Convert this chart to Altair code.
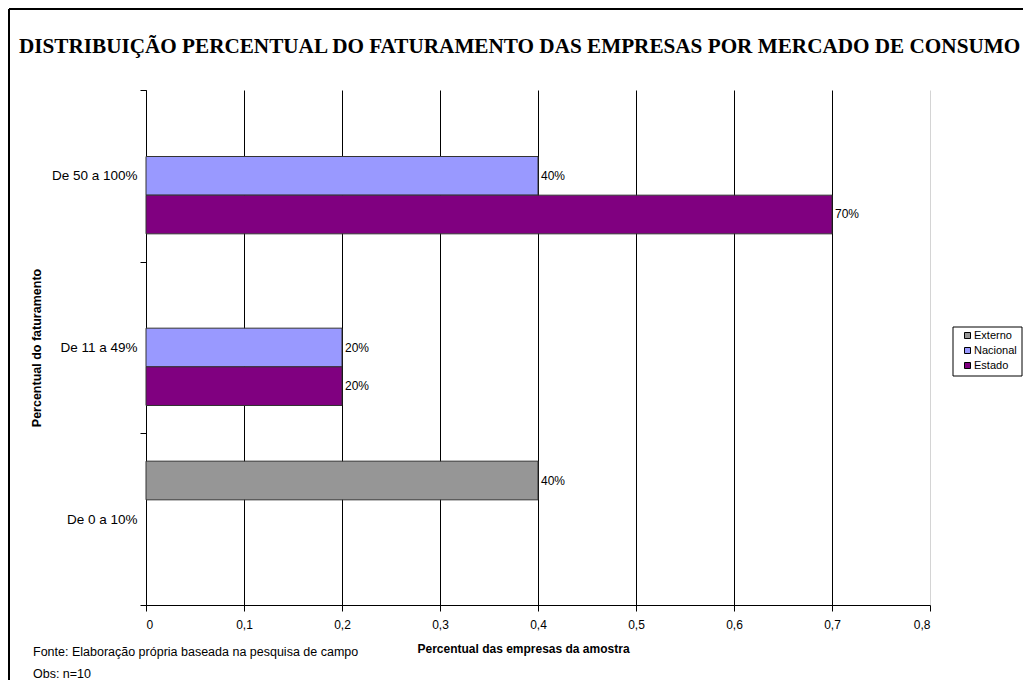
import altair as alt
import pandas as pd

categories = ["De 50 a 100%", "De 11 a 49%", "De 0 a 10%"]
series = ["Externo", "Nacional", "Estado"]
colors = ["#969696", "#9999FF", "#800080"]
externo = [None, None, 0.4]
nacional = [0.4, 0.2, None]
estado = [0.7, 0.2, None]
x_ticks = [0, 0.1, 0.2, 0.3, 0.4, 0.5, 0.6, 0.7, 0.8]

title_text = "DISTRIBUIÇÃO PERCENTUAL DO FATURAMENTO DAS EMPRESAS POR MERCADO DE CONSUMO"
x_title = "Percentual das empresas da amostra"
y_title = "Percentual do faturamento"
note1 = "Fonte: Elaboração própria baseada na pesquisa de campo"
note2 = "Obs: n=10"

rows = []
for name, vals in zip(series, [externo, nacional, estado]):
    for cat, v in zip(categories, vals):
        if v is not None:
            rows.append({"cat": cat, "series": name, "value": v, "label": f"{round(v*100)}%"})
df = pd.DataFrame(rows)

W, H = 784, 515
PL, PT, PR, PB = 138, 82, 93, 75
SANS = "Liberation Sans"
SERIF = "Liberation Serif"

base = alt.Chart(df)

y_enc = alt.Y("cat:N", sort=categories, title=y_title,
              scale=alt.Scale(paddingInner=0, paddingOuter=0),
              axis=alt.Axis(tickBand="extent", tickSize=6, tickColor="black",
                            domainColor="black", labelPadding=3, labelFontSize=13.5,
                            labelFont=SANS, labelColor="black", grid=False,
                            titleFont=SANS, titleFontSize=12.5, titleFontWeight="bold",
                            titleColor="black", titleX=-110, titleY=H / 2,
                            titleAngle=270, titleAlign="center", titleBaseline="middle"))
yoff = alt.YOffset("series:N", sort=series,
                   scale=alt.Scale(domain=series, paddingInner=0, paddingOuter=0.72))
x_enc = alt.X("value:Q", title=x_title,
              scale=alt.Scale(domain=[0, 0.8], nice=False, zero=True),
              axis=alt.Axis(values=x_ticks,
                            labelExpr="replace(format(datum.value, '.1~f'), '.', ',')",
                            grid=True,
                            gridColor={"condition": {"test": "datum.value >= 0.79", "value": "#d4d4d4"}, "value": "#000000"},
                            gridWidth=1, tickSize=6, tickColor="black", domainColor="black",
                            labelFont=SANS, labelFontSize=12, labelColor="black", labelPadding=8,
                            titleFont=SANS, titleFontSize=12, titleFontWeight="bold",
                            titleColor="black", titleX=377, titleY=43, titleBaseline="middle"))

bars = base.mark_bar(stroke="#333333", strokeWidth=1).encode(
    x=x_enc, y=y_enc, yOffset=yoff,
    color=alt.Color("series:N", scale=alt.Scale(domain=series, range=colors),
                    legend=alt.Legend(title=None, orient="none", legendX=816, legendY=240,
                                      padding=0, symbolType="square",
                                      symbolSize=36, symbolStrokeColor="black",
                                      symbolStrokeWidth=1, labelFont=SANS, labelFontSize=11,
                                      labelColor="black", rowPadding=3, labelOffset=1)),
)

labels = base.mark_text(align="left", baseline="middle", dx=3, font=SANS, fontSize=12,
                        color="black").encode(
    x="value:Q", y=alt.Y("cat:N", sort=categories), yOffset=yoff, text="label:N")


def deco_text(txt, x, y, size, font, weight="normal"):
    return alt.Chart(alt.Data(values=[{}])).mark_text(
        align="left", baseline="middle", font=font, fontSize=size, fontWeight=weight,
        color="black").encode(x=alt.value(x), y=alt.value(y), text=alt.value(txt))


title = deco_text(title_text, -127, -43, 21.2, SERIF, "bold")
n1 = deco_text(note1, -113, 562, 12.5, SANS)
n2 = deco_text(note2, -113, 584, 12.5, SANS)

legend_box = alt.Chart(alt.Data(values=[{}])).mark_rect(
    fill="white", fillOpacity=0, stroke="black", strokeWidth=1).encode(
    x=alt.value(807), x2=alt.value(876), y=alt.value(237), y2=alt.value(286))

frame_left = alt.Chart(alt.Data(values=[{}])).mark_rule(color="black", strokeWidth=2).encode(
    x=alt.value(-137), y=alt.value(-81), y2=alt.value(H + PB))
frame_top = alt.Chart(alt.Data(values=[{}])).mark_rule(color="black", strokeWidth=2).encode(
    x=alt.value(-137), x2=alt.value(W + PR), y=alt.value(-81))

chart = alt.layer(bars, labels, title, n1, n2, legend_box, frame_left, frame_top).properties(
    width=W, height=H,
    autosize=alt.AutoSizeParams(type="none"),
    padding={"left": PL, "top": PT, "right": PR, "bottom": PB},
    background="white",
).configure_view(stroke=None)

chart.save("out.html", embed_options={"renderer": "svg", "actions": False})
